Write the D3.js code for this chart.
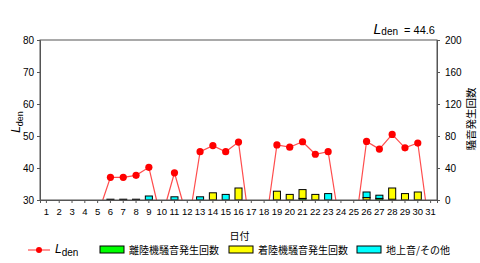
<!DOCTYPE html>
<html>
<head>
<meta charset="utf-8">
<script src="https://cdn.jsdelivr.net/npm/d3@7"></script>
<style>
  body { margin: 0; background: #fff; }
  svg { display: block; font-family: "Liberation Sans", Arial, sans-serif; }
</style>
</head>
<body>
<div id="container"></div>
<script>
// Days of the month
const days = d3.range(1, 32);

// Lden per day (null = no measurement)
const lden = [null, null, null, null, null, 37.1, 37.1, 37.7, 40.2, null,
  38.5, null, 45.1, 47.0, 45.1, 48.1, null, null, 47.2, 46.5,
  48.2, 44.3, 45.1, null, null, 48.3, 45.9, 50.5, 46.3, 47.8, null];

// noise event counts per day
const departures = [0, 0, 0, 0, 0, 0, 0, 0, 0, 0,
  0, 0, 0, 0, 0, 0, 0, 0, 0, 0,
  2, 0, 0, 0, 0, 0, 2, 1, 0, 0, 0];
const arrivals = [0, 0, 0, 0, 0, 1, 1, 1, 0, 0,
  0, 0, 0, 9, 0, 15, 0, 0, 11, 7,
  11, 7, 0, 0, 0, 3, 0, 14, 8, 10, 0];
const ground = [0, 0, 0, 0, 0, 0, 0, 0, 5, 0,
  4, 0, 4, 0, 7, 0, 0, 0, 0, 0,
  0, 0, 8, 0, 0, 7, 4, 0, 0, 0, 0];

const seriesNames = ["離陸機騒音発生回数", "着陸機騒音発生回数", "地上音/その他"];
const seriesColors = ["#00ff00", "#ffff00", "#00ffff"];

const ldenTicks = [30, 40, 50, 60, 70, 80];
const countTicks = [0, 40, 80, 120, 160, 200];
const ldenAverage = 44.6;

// chart dimensions
const W = 480, H = 263;
const margin = { left: 40, top: 40, right: 43, bottom: 63 };
const width = W - margin.left - margin.right;
const height = H - margin.top - margin.bottom;

const x = d3.scaleBand().domain(days).range([0, width]);
const yL = d3.scaleLinear().domain([30, 80]).range([height, 0]);
const yR = d3.scaleLinear().domain([0, 200]).range([height, 0]);

const svg = d3.select("#container").append("svg")
  .attr("width", W).attr("height", H);

const g = svg.append("g")
  .attr("transform", `translate(${margin.left},${margin.top})`);

// stacked bars
const rows = days.map((d, i) => ({ day: d, s0: departures[i], s1: arrivals[i], s2: ground[i] }));
const stack = d3.stack().keys(["s0", "s1", "s2"])(rows);
const barW = x.bandwidth() * 0.55;

stack.forEach((layer, k) => {
  g.append("g")
    .selectAll("rect")
    .data(layer.filter(d => d[1] - d[0] > 0))
    .join("rect")
    .attr("x", d => x(d.data.day) + (x.bandwidth() - barW) / 2)
    .attr("y", d => yR(d[1]))
    .attr("width", barW)
    .attr("height", d => yR(d[0]) - yR(d[1]))
    .attr("fill", seriesColors[k])
    .attr("stroke", "#000")
    .attr("stroke-width", 1);
});

// Lden line: each run of days drops to the axis floor on both sides
const cx = d => x(d) + x.bandwidth() / 2;
const off = x.step() * 0.6;
const runs = [];
let cur = null;
days.forEach((d, i) => {
  if (lden[i] != null) {
    if (!cur) { cur = []; runs.push(cur); }
    cur.push([d, lden[i]]);
  } else cur = null;
});
const line = d3.line();
runs.forEach(run => {
  const pts = [[cx(run[0][0]) - off, yL(30)]]
    .concat(run.map(p => [cx(p[0]), yL(p[1])]))
    .concat([[cx(run[run.length - 1][0]) + off, yL(30)]]);
  g.append("path")
    .attr("d", line(pts))
    .attr("fill", "none")
    .attr("stroke", "#ff4d4d")
    .attr("stroke-width", 1.2);
});
g.append("g")
  .selectAll("circle")
  .data(days.map((d, i) => [d, lden[i]]).filter(p => p[1] != null))
  .join("circle")
  .attr("cx", p => cx(p[0]))
  .attr("cy", p => yL(p[1]))
  .attr("r", 3.6)
  .attr("fill", "#ff0000");

// plot frame
g.append("rect")
  .attr("width", width).attr("height", height)
  .attr("fill", "none").attr("stroke", "#555").attr("stroke-width", 1);

// axes
const fs = "10px";
const left = g.append("g").call(d3.axisLeft(yL).tickValues(ldenTicks).tickSize(3).tickPadding(3));
const right = g.append("g").attr("transform", `translate(${width},0)`)
  .call(d3.axisRight(yR).tickValues(countTicks).tickSize(3).tickPadding(5));
const bottom = g.append("g").attr("transform", `translate(0,${height})`)
  .call(d3.axisBottom(x).tickSize(3).tickPadding(5));
[left, right, bottom].forEach(a => {
  a.selectAll("text").style("font-size", fs).attr("fill", "#000");
  a.selectAll("line").attr("stroke", "#555");
  a.select(".domain").attr("stroke", "#555");
});
bottom.selectAll("text").style("font-size", "9.5px");

// axis titles
const lLab = svg.append("text")
  .attr("transform", `translate(20,${margin.top + height / 2 + 2}) rotate(-90)`)
  .attr("text-anchor", "middle").style("font-size", "11px");
lLab.append("tspan").text("L").style("font-style", "italic").style("font-size", "12px");
lLab.append("tspan").text("den").attr("dy", 3).style("font-size", "9px");

svg.append("text")
  .attr("transform", `translate(${W - 5},${margin.top + height / 2 - 1}) rotate(-90)`)
  .attr("text-anchor", "middle").style("font-size", "10.5px")
  .style("font-family", "'Noto Sans CJK JP', sans-serif")
  .text("騒音発生回数");

svg.append("text")
  .attr("x", margin.left + width / 2 + 1).attr("y", 240)
  .attr("text-anchor", "middle").style("font-size", "10px")
  .style("font-family", "'Noto Sans CJK JP', sans-serif")
  .text("日付");

// average Lden label
const t = svg.append("text")
  .attr("x", margin.left + width - 2).attr("y", 34)
  .attr("text-anchor", "end").style("font-size", "11px");
t.append("tspan").text("L").style("font-style", "italic").style("font-size", "14px");
t.append("tspan").text("den").attr("dy", 1).style("font-size", "10px");
t.append("tspan").text(` = ${ldenAverage}`).attr("dy", -1).attr("dx", 3);

// legend
const ly = 251;
const lg = svg.append("g");
lg.append("line").attr("x1", 28).attr("x2", 50).attr("y1", ly - 1).attr("y2", ly - 1)
  .attr("stroke", "#ff4d4d").attr("stroke-width", 1.2);
lg.append("circle").attr("cx", 39).attr("cy", ly - 1).attr("r", 3).attr("fill", "#ff0000");
const lt = lg.append("text").attr("x", 55).attr("y", ly + 2).style("font-size", "11px");
lt.append("tspan").text("L").style("font-style", "italic").style("font-size", "12px");
lt.append("tspan").text("den").attr("dy", 3).style("font-size", "10px");

const legX = [100, 229, 357];
seriesNames.forEach((name, k) => {
  lg.append("rect").attr("x", legX[k]).attr("y", ly - 5).attr("width", 24).attr("height", 7)
    .attr("fill", seriesColors[k]).attr("stroke", "#000");
  lg.append("text").attr("x", legX[k] + 29).attr("y", ly + 3)
    .style("font-size", "10px")
    .style("font-family", "'Noto Sans CJK JP', sans-serif")
    .text(name);
});
</script>
</body>
</html>
